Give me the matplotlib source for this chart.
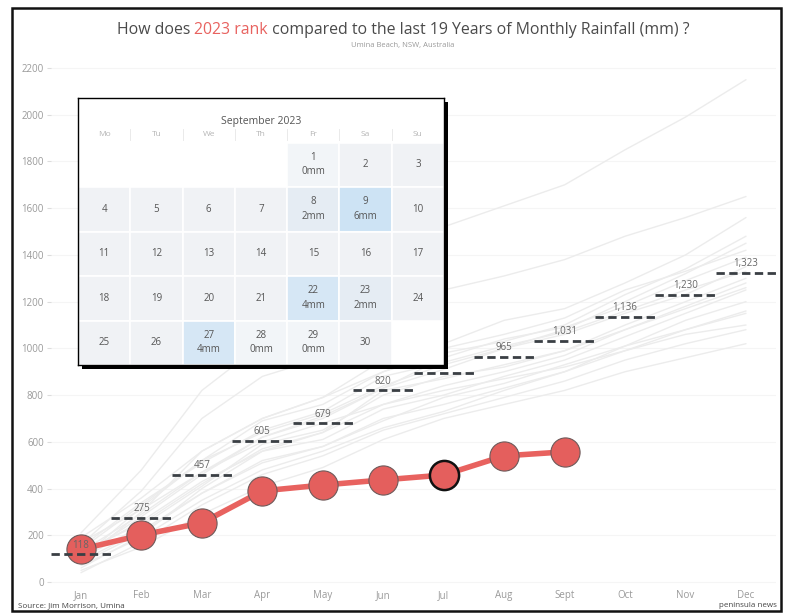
import matplotlib
matplotlib.use("Agg")
import matplotlib.pyplot as plt
from matplotlib.patches import Rectangle

# ---------------- data ----------------
months = ["Jan", "Feb", "Mar", "Apr", "May", "Jun", "Jul", "Aug", "Sept", "Oct", "Nov", "Dec"]
cum_2023 = [140, 201, 253, 390, 415, 437, 458, 540, 557]
avg_cum = [118, 275, 457, 605, 679, 820, 893, 965, 1031, 1136, 1230, 1323]
avg_labels = ["118", "275", "457", "605", "679", "820", "", "965", "1,031", "1,136", "1,230", "1,323"]

past_years = [
    [210, 480, 820, 1020, 1150, 1390, 1520, 1610, 1700, 1850, 1990, 2150],
    [160, 390, 700, 880, 960, 1150, 1250, 1310, 1380, 1480, 1560, 1650],
    [90, 300, 560, 700, 790, 950, 1020, 1120, 1170, 1280, 1400, 1560],
    [140, 330, 520, 690, 760, 900, 980, 1030, 1100, 1230, 1340, 1480],
    [60, 200, 400, 560, 640, 820, 870, 930, 990, 1100, 1200, 1300],
    [120, 260, 430, 560, 610, 740, 800, 880, 950, 1050, 1150, 1250],
    [80, 210, 380, 520, 580, 690, 790, 850, 930, 1010, 1080, 1150],
    [170, 310, 470, 600, 680, 760, 820, 870, 920, 990, 1060, 1100],
    [50, 150, 290, 410, 490, 610, 700, 760, 820, 900, 960, 1020],
    [100, 240, 410, 590, 650, 800, 880, 920, 990, 1080, 1180, 1280],
    [130, 290, 470, 620, 710, 830, 910, 1000, 1060, 1150, 1230, 1350],
    [70, 190, 350, 480, 560, 660, 730, 820, 900, 1010, 1120, 1200],
    [110, 280, 460, 620, 700, 830, 960, 1040, 1090, 1180, 1290, 1390],
    [150, 340, 510, 650, 730, 880, 940, 1010, 1070, 1160, 1250, 1330],
    [40, 170, 330, 460, 540, 650, 720, 790, 860, 950, 1020, 1080],
    [190, 360, 560, 700, 790, 900, 1000, 1060, 1130, 1250, 1330, 1420],
    [90, 220, 380, 510, 580, 700, 760, 830, 900, 990, 1080, 1160],
    [130, 250, 420, 570, 640, 760, 840, 900, 970, 1080, 1170, 1260],
    [100, 320, 520, 640, 720, 840, 930, 1000, 1080, 1200, 1320, 1450],
]

yticks = [0, 200, 400, 600, 800, 1000, 1200, 1400, 1600, 1800, 2000, 2200]

cal_title = "September 2023"
weekdays = ["Mo", "Tu", "We", "Th", "Fr", "Sa", "Su"]
n_days = 30
first_weekday = 4  # Friday
rain_days = [1, 8, 9, 22, 23, 27, 28, 29]
rain_mm = [0, 2, 6, 4, 2, 4, 0, 0]

# ---------------- layout helpers ----------------
W, H = 793, 615
fig = plt.figure(figsize=(W / 100, H / 100), dpi=100)
fig.patch.set_facecolor("white")


def fx(px):
    return px / W


def fy(py):
    return 1 - py / H


plt.rcParams["font.family"] = ["Open Sans", "DejaVu Sans"]

x_per = (746 - 81) / 11.0
y_per = (582 - 68) / 2200.0
xlo, xhi = -0.5, 11.5
ylo, yhi = -22, 2240
left_px = 81 + xlo * x_per
right_px = 81 + xhi * x_per
bot_px = 582 - ylo * y_per
top_px = 582 - yhi * y_per
ax = fig.add_axes([fx(left_px), fy(bot_px), (right_px - left_px) / W, (bot_px - top_px) / H])
ax.set_xlim(xlo, xhi)
ax.set_ylim(ylo, yhi)
for s in ax.spines.values():
    s.set_visible(False)

ax.set_yticks(yticks)
ax.set_yticklabels([str(v) for v in yticks])
ax.set_xticks(range(len(months)))
ax.set_xticklabels(months)
ax.tick_params(axis="y", length=3, color="#dddddd", labelcolor="#9a9a9a", labelsize=7, pad=2)
ax.tick_params(axis="x", length=0, labelcolor="#9a9a9a", labelsize=7, pad=2)
for v in yticks:
    ax.axhline(v, color="#f5f5f5", lw=0.8, zorder=0)

xs = list(range(len(months)))
for yr in past_years:
    ax.plot(xs, yr, color="#ececec", lw=1.0, zorder=1, solid_capstyle="round")

# 2023 line
x23 = list(range(len(cum_2023)))
ax.plot(x23, cum_2023, color="#e8625f", lw=4, zorder=3, solid_capstyle="round")
for i, v in enumerate(cum_2023):
    sel = (i == 6)
    ax.plot(i, v, "o", ms=21, mfc="#e45f5d", mec="#111111" if sel else "#6e5a5a",
            mew=1.8 if sel else 0.8, zorder=4)

# average dashes
for i, (v, lab) in enumerate(zip(avg_cum, avg_labels)):
    ax.plot([i - 0.5, i + 0.5], [v, v], color="#3a3f44", lw=2, ls=(0, (3, 1.6)), zorder=5)
    if lab:
        ax.text(i, v + 40, lab, ha="center", va="center", fontsize=7, color="#666666", zorder=6)

# ---------------- calendar inset ----------------
cx0, cx1, cy0, cy1 = 78, 444, 98, 365
shadow = Rectangle((fx(cx0 + 4), fy(cy1 + 4)), (cx1 - cx0) / W, (cy1 - cy0) / H,
                   transform=fig.transFigure, facecolor="black", edgecolor="none", zorder=5)
fig.add_artist(shadow)
cal = fig.add_axes([fx(cx0), fy(cy1), (cx1 - cx0) / W, (cy1 - cy0) / H], zorder=6)
cal.set_facecolor("white")
cal.set_xlim(0, 7)
cal.set_ylim(5, -1)
cal.set_xticks([])
cal.set_yticks([])
for s in cal.spines.values():
    s.set_color("black")
    s.set_linewidth(1)

cal.text(3.5, -0.48, cal_title, ha="center", va="center", fontsize=7.5, color="#555555")
for c, wd in enumerate(weekdays):
    cal.text(c + 0.5, -0.17, wd, ha="center", va="center", fontsize=6, color="#b5b5b5")
    if c > 0:
        cal.plot([c, c], [-0.3, -0.05], color="#e6e6e6", lw=0.6)

rain_colors = {0: "#f2f5f8", 2: "#e5ecf3", 4: "#d6e7f5", 6: "#cde3f4"}
for d in range(1, n_days + 1):
    idx = d - 1 + first_weekday
    r, c = idx // 7, idx % 7
    if d in rain_days:
        mm = rain_mm[rain_days.index(d)]
        fc = rain_colors[mm]
    else:
        mm = None
        fc = "#f0f2f5"
    cal.add_patch(Rectangle((c, r), 1, 1, facecolor=fc, edgecolor="white", lw=1.2))
    if mm is None:
        cal.text(c + 0.5, r + 0.5, str(d), ha="center", va="center", fontsize=7, color="#555555")
    else:
        cal.text(c + 0.5, r + 0.33, str(d), ha="center", va="center", fontsize=7, color="#555555")
        cal.text(c + 0.5, r + 0.66, f"{mm}mm", ha="center", va="center", fontsize=7, color="#555555")

# ---------------- titles ----------------
dark = "#4a4a4a"
red = "#e8625f"
parts = [("How does ", dark), ("2023 rank", red), (" compared to the last 19 Years of Monthly Rainfall (mm) ?", dark)]
tobjs = [fig.text(0, fy(30), t, color=col, fontsize=11.4, ha="left", va="center") for t, col in parts]
fig.canvas.draw()
renderer = fig.canvas.get_renderer()
widths = [t.get_window_extent(renderer).width for t in tobjs]
total = sum(widths)
x = 403 - total / 2
for t, w in zip(tobjs, widths):
    t.set_x(fx(x))
    x += w

fig.text(fx(403), fy(46), "Umina Beach, NSW, Australia", ha="center", va="center", fontsize=5.5, color="#999999")
fig.text(fx(18), fy(602), "Source: Jim Morrison, Umina", ha="left", va="top", fontsize=5.8, color="#444444")
fig.text(fx(777), fy(602), "peninsula news", ha="right", va="top", fontsize=5.8, color="#444444")

# white outside frame + frame
for (x0, y0, x1, y1) in [(0, 611, W, H), (0, 0, W, 8), (0, 0, 12, H), (781, 0, W, H)]:
    fig.add_artist(Rectangle((fx(x0), fy(y1)), (x1 - x0) / W, (y1 - y0) / H, transform=fig.transFigure,
                             facecolor="white", edgecolor="none", zorder=20))
fig.add_artist(Rectangle((fx(12), fy(611)), (781 - 12) / W, (611 - 8) / H, transform=fig.transFigure,
                         facecolor="none", edgecolor="#111111", lw=1.8, zorder=21))

fig.savefig("out.png", dpi=100)
